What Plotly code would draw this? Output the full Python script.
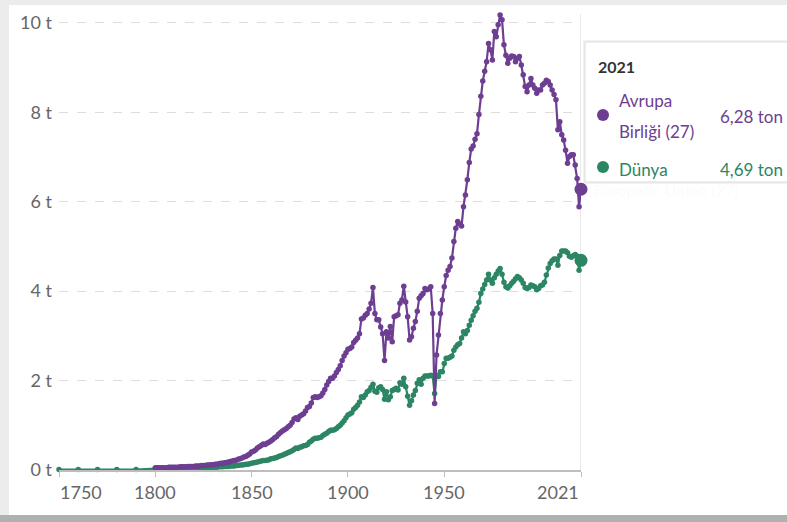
import plotly.graph_objects as go

# ---------------- data ----------------
world_years = [1750, 1760, 1770, 1780, 1790] + list(range(1800, 2022))
world_vals = [
    0.01, 0.01, 0.01, 0.01, 0.01,
    # 1800-1849
    0.03, 0.03, 0.03, 0.03, 0.03, 0.03, 0.03, 0.03, 0.03, 0.03,
    0.03, 0.03, 0.03, 0.04, 0.04, 0.04, 0.04, 0.04, 0.04, 0.04,
    0.04, 0.04, 0.04, 0.05, 0.05, 0.05, 0.05, 0.05, 0.06, 0.06,
    0.06, 0.06, 0.06, 0.07, 0.07, 0.07, 0.08, 0.08, 0.08, 0.09,
    0.09, 0.09, 0.10, 0.10, 0.11, 0.11, 0.12, 0.13, 0.13, 0.14,
    # 1850-1899
    0.15, 0.16, 0.17, 0.18, 0.19, 0.20, 0.21, 0.21, 0.22, 0.23,
    0.25, 0.26, 0.27, 0.28, 0.30, 0.32, 0.33, 0.35, 0.37, 0.39,
    0.41, 0.43, 0.46, 0.49, 0.48, 0.51, 0.52, 0.54, 0.55, 0.57,
    0.62, 0.65, 0.69, 0.71, 0.71, 0.72, 0.73, 0.77, 0.80, 0.82,
    0.86, 0.89, 0.89, 0.90, 0.93, 0.97, 1.00, 1.05, 1.10, 1.17,
    # 1900-1949
    1.23, 1.25, 1.28, 1.36, 1.40, 1.45, 1.52, 1.64, 1.62, 1.68,
    1.75, 1.78, 1.85, 1.92, 1.76, 1.74, 1.84, 1.86, 1.80, 1.58,
    1.75, 1.57, 1.64, 1.78, 1.80, 1.83, 1.79, 1.95, 1.92, 2.05,
    1.86, 1.65, 1.45, 1.55, 1.68, 1.78, 1.94, 2.02, 1.92, 2.05,
    2.10, 2.10, 2.10, 2.12, 2.10, 1.71, 2.12, 2.09, 2.20, 2.20,
    # 1950-1999
    2.38, 2.50, 2.50, 2.52, 2.55, 2.68, 2.75, 2.80, 2.83, 2.95,
    3.09, 3.05, 3.12, 3.24, 3.35, 3.45, 3.55, 3.62, 3.75, 3.95,
    4.05, 4.15, 4.25, 4.38, 4.25, 4.18, 4.30, 4.38, 4.45, 4.51,
    4.38, 4.20, 4.10, 4.07, 4.12, 4.18, 4.22, 4.28, 4.33, 4.30,
    4.25, 4.18, 4.08, 4.06, 4.08, 4.14, 4.12, 4.10, 4.03, 4.06,
    # 2000-2021
    4.12, 4.14, 4.20, 4.36, 4.52, 4.62, 4.68, 4.72, 4.72, 4.58,
    4.80, 4.90, 4.90, 4.90, 4.86, 4.78, 4.76, 4.79, 4.82, 4.78,
    4.47, 4.69,
]

eu_years = list(range(1800, 2022))
eu_vals = [
    # 1800-1849
    0.05, 0.05, 0.05, 0.05, 0.05, 0.05, 0.05, 0.06, 0.06, 0.06,
    0.06, 0.06, 0.06, 0.07, 0.07, 0.07, 0.07, 0.08, 0.08, 0.08,
    0.08, 0.09, 0.09, 0.09, 0.10, 0.10, 0.10, 0.11, 0.11, 0.12,
    0.12, 0.13, 0.13, 0.14, 0.15, 0.15, 0.16, 0.17, 0.18, 0.19,
    0.20, 0.21, 0.22, 0.24, 0.25, 0.27, 0.29, 0.30, 0.33, 0.36,
    # 1850-1899
    0.40, 0.42, 0.45, 0.49, 0.52, 0.55, 0.58, 0.57, 0.60, 0.62,
    0.65, 0.68, 0.72, 0.75, 0.80, 0.84, 0.87, 0.90, 0.93, 0.97,
    1.00, 1.06, 1.14, 1.17, 1.13, 1.20, 1.23, 1.26, 1.32, 1.40,
    1.42, 1.50, 1.62, 1.64, 1.62, 1.64, 1.66, 1.72, 1.80, 1.90,
    1.98, 2.05, 2.05, 2.10, 2.18, 2.25, 2.33, 2.45, 2.55, 2.62,
    # 1900-1949
    2.70, 2.72, 2.75, 2.85, 2.90, 2.95, 3.05, 3.38, 3.40, 3.46,
    3.50, 3.60, 3.73, 4.08, 3.50, 3.36, 3.36, 3.20, 3.05, 2.45,
    3.09, 2.95, 3.21, 2.87, 3.43, 3.45, 3.47, 3.73, 3.80, 4.11,
    3.76, 3.43, 2.91, 2.98, 3.17, 3.32, 3.55, 3.84, 3.90, 3.95,
    4.06, 4.03, 4.05, 4.10, 3.50, 1.49, 2.57, 3.02, 3.50, 3.80,
    # 1950-1999
    4.10, 4.35, 4.47, 4.55, 4.74, 5.11, 5.41, 5.56, 5.50, 5.46,
    5.89, 6.15, 6.49, 6.88, 7.18, 7.25, 7.40, 7.52, 7.95, 8.36,
    8.70, 8.92, 9.13, 9.54, 9.40, 9.17, 9.81, 9.69, 9.96, 10.18,
    10.07, 9.51, 9.28, 9.10, 9.21, 9.26, 9.25, 9.13, 9.21, 9.25,
    9.06, 8.84, 8.58, 8.46, 8.61, 8.76, 8.61, 8.54, 8.43, 8.50,
    # 2000-2021
    8.50, 8.61, 8.65, 8.72, 8.69, 8.61, 8.50, 8.40, 8.28, 7.61,
    7.79, 7.50, 7.38, 7.15, 6.86, 7.01, 7.05, 7.05, 6.82, 6.52,
    5.89, 6.28,
]

y_tick_vals = [0, 2, 4, 6, 8, 10]
y_tick_text = ["0 t", "2 t", "4 t", "6 t", "8 t", "10 t"]
x_tick_vals = [1750, 1800, 1850, 1900, 1950, 2021]
x_tick_text = ["1750", "1800", "1850", "1900", "1950", "2021"]

tip_year = "2021"
eu_name_l1 = "Avrupa"
eu_name_l2 = "Birliği (27)"
world_name = "Dünya"
eu_tip_val = "6,28 ton"
world_tip_val = "4,69 ton"
ghost_label = "European Union (27)"

PURPLE = "#6d3e91"
GREEN = "#2c8664"
FONT = "Lato, 'Open Sans', sans-serif"
AXIS_TXT = "#666666"

# ---------------- layout geometry ----------------
W, H = 787, 522
ML, MR, MT, MB = 59, 206, 14, 52
PW = W - ML - MR
PH = H - MT - MB


def px(x):
    return (x - ML) / PW


def py(y):
    return (H - MB - y) / PH


fig = go.Figure()

fig.add_trace(go.Scatter(
    x=world_years, y=world_vals, mode="lines+markers",
    line=dict(color=GREEN, width=2.2), marker=dict(color=GREEN, size=5.5),
    cliponaxis=False, showlegend=False, hoverinfo="skip"))
fig.add_trace(go.Scatter(
    x=eu_years, y=eu_vals, mode="lines+markers",
    line=dict(color=PURPLE, width=2.2), marker=dict(color=PURPLE, size=5.5),
    cliponaxis=False, showlegend=False, hoverinfo="skip"))
# emphasized end points
fig.add_trace(go.Scatter(
    x=[world_years[-1]], y=[world_vals[-1]], mode="markers",
    marker=dict(color=GREEN, size=13), cliponaxis=False, showlegend=False,
    hoverinfo="skip"))
fig.add_trace(go.Scatter(
    x=[eu_years[-1]], y=[eu_vals[-1]], mode="markers",
    marker=dict(color=PURPLE, size=13), cliponaxis=False, showlegend=False,
    hoverinfo="skip"))

shapes = []
# outer frame of the screenshot
shapes.append(dict(type="rect", xref="paper", yref="paper",
                   x0=px(0), x1=px(W), y0=py(0), y1=py(5),
                   fillcolor="#ececec", line_width=0, layer="below"))
shapes.append(dict(type="rect", xref="paper", yref="paper",
                   x0=px(0), x1=px(9), y0=py(0), y1=py(H),
                   fillcolor="#ececec", line_width=0, layer="below"))
shapes.append(dict(type="rect", xref="paper", yref="paper",
                   x0=px(0), x1=px(W), y0=py(515), y1=py(H),
                   fillcolor="#b0b0b0", line_width=0, layer="below"))
# hover line at 2021
shapes.append(dict(type="line", xref="x", yref="paper",
                   x0=2021, x1=2021, y0=0, y1=py(MT),
                   line=dict(color="#e2e2e2", width=1.5), layer="below"))
# tooltip box (shadow + box)
shapes.append(dict(type="rect", xref="paper", yref="paper",
                   x0=px(583), x1=px(800), y0=py(184), y1=py(40),
                   fillcolor="rgba(0,0,0,0.05)", line_width=0))
shapes.append(dict(type="rect", xref="paper", yref="paper",
                   x0=px(585), x1=px(800), y0=py(182), y1=py(42),
                   fillcolor="white", line=dict(color="#dcdcdc", width=1)))
# tooltip dots
r = 6
for cx, cy, col in [(603, 115, PURPLE), (603, 167, GREEN)]:
    shapes.append(dict(type="circle", xref="paper", yref="paper",
                       x0=px(cx - r), x1=px(cx + r), y0=py(cy + r), y1=py(cy - r),
                       fillcolor=col, line_width=0))

annotations = [
    dict(x=px(596), y=py(67), text="<b>" + tip_year + "</b>", font=dict(size=16, color="#333333")),
    dict(x=px(617), y=py(101), text=eu_name_l1, font=dict(size=17, color=PURPLE)),
    dict(x=px(617), y=py(131), text=eu_name_l2, font=dict(size=17, color=PURPLE)),
    dict(x=px(617), y=py(170), text=world_name, font=dict(size=17, color=GREEN)),
    dict(x=px(785), y=py(117), text=eu_tip_val, font=dict(size=17, color=PURPLE), xanchor="right"),
    dict(x=px(785), y=py(170), text=world_tip_val, font=dict(size=17, color=GREEN), xanchor="right"),
    dict(x=px(592), y=py(189), text=ghost_label, font=dict(size=16, color="rgba(120,120,120,0.04)")),
]
for a in annotations:
    a.setdefault("xanchor", "left")
    a.update(xref="paper", yref="paper", yanchor="middle", showarrow=False)
    a["font"]["family"] = FONT

# x tick labels: first one left-aligned, last one right-aligned, others centred
for i, (v, t) in enumerate(zip(x_tick_vals, x_tick_text)):
    anchor = "left" if i == 0 else ("right" if i == len(x_tick_vals) - 1 else "center")
    annotations.append(dict(
        x=v, xref="x", y=0, yref="paper", text=t, showarrow=False,
        xanchor=anchor, yanchor="top", yshift=-9, xshift=(-1 if i == 0 else 0),
        font=dict(size=18, color=AXIS_TXT, family=FONT)))

fig.update_layout(
    width=W, height=H,
    margin=dict(l=ML, r=MR, t=MT, b=MB, pad=0),
    paper_bgcolor="white", plot_bgcolor="white",
    font=dict(family=FONT, color=AXIS_TXT),
    shapes=shapes, annotations=annotations,
    hovermode=False,
    xaxis=dict(range=[1750, 2021], tickvals=x_tick_vals,
               ticktext=["" for _ in x_tick_text],
               showgrid=False, zeroline=False, showline=True, linecolor="#bdbdbd",
               linewidth=1.5, ticks="outside", ticklen=5, tickcolor="#bdbdbd"),
    yaxis=dict(range=[0, 10.2], tickvals=y_tick_vals, ticktext=y_tick_text,
               showgrid=True, gridcolor="#dddddd", griddash="dash", gridwidth=1,
               zeroline=False, showline=False, ticks="",
               ticklabelstandoff=6,
               tickfont=dict(size=18, color=AXIS_TXT, family=FONT)),
)

fig.write_html(
    "out.html",
    config={"displayModeBar": False},
    post_script="document.body.style.margin='0';document.body.style.overflow='hidden';",
)
